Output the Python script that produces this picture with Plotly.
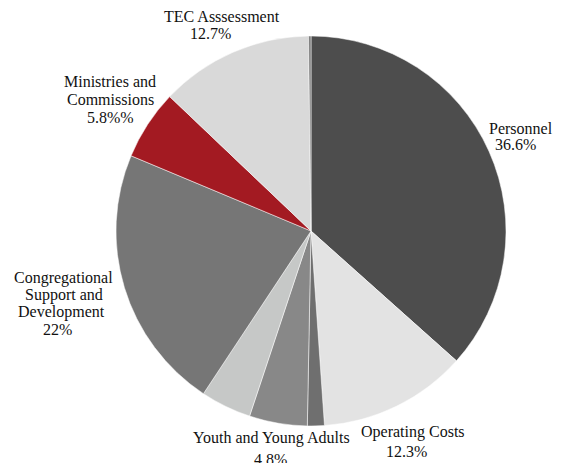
import plotly.graph_objects as go

# Budget shares, clockwise from 12 o'clock
categories = ["Personnel", "Operating Costs", "Other A", "Youth and Young Adults", "Other B",
              "Congregational Support and Development", "Ministries and Commissions",
              "TEC Asssessment", "Other C"]
values = [36.6, 12.3, 1.4, 4.8, 4.2, 22.0, 5.8, 12.7, 0.2]
colors = ["#4d4d4d", "#e3e3e3", "#6f6f6f", "#888888", "#c6c8c7",
          "#767676", "#a31a22", "#d9d9d9", "#7a7a7a"]

# Outside labels: wrapped name lines and the value text for each labelled slice
label_lines = {
    0: ["Personnel"],
    1: ["Operating Costs"],
    3: ["Youth and Young Adults"],
    5: ["Congregational", "Support and", "Development"],
    6: ["Ministries and", "Commissions"],
    7: ["TEC Asssessment"],
}
value_text = {0: "36.6%", 1: "12.3%", 3: "4.8%", 5: "22%", 6: "5.8%%", 7: "12.7%"}

# Pixel centres (x, y) of each text line
line_pos = {
    0: [(521, 128), (515, 145)],
    1: [(413, 432), (406, 451)],
    3: [(271, 438), (270, 459)],
    5: [(63, 278), (64, 295), (61, 312), (57, 329)],
    6: [(110, 82), (110, 100), (110, 117)],
    7: [(222, 17), (210, 34)],
}

W, H = 567, 463
cx, cy, r = 311, 231, 195

fig = go.Figure(go.Pie(
    labels=categories,
    values=values,
    sort=False,
    direction="clockwise",
    rotation=0,
    marker=dict(colors=colors, line=dict(color="white", width=0.5)),
    textinfo="none",
    hoverinfo="label+percent",
    showlegend=False,
    domain=dict(x=[(cx - r) / W, (cx + r) / W], y=[(H - cy - r) / H, (H - cy + r) / H]),
))

annotations = []
for i, lines in label_lines.items():
    all_lines = lines + [value_text[i]]
    for txt, (px, py) in zip(all_lines, line_pos[i]):
        annotations.append(dict(
            text=txt,
            x=px / W, y=1 - py / H, xref="paper", yref="paper",
            xanchor="center", yanchor="middle", showarrow=False,
            font=dict(family="Liberation Serif", size=16, color="#111111"),
        ))

fig.update_layout(
    width=W, height=H,
    margin=dict(l=0, r=0, t=0, b=0),
    paper_bgcolor="white", plot_bgcolor="white",
    annotations=annotations,
)

fig.write_html("out.html")
